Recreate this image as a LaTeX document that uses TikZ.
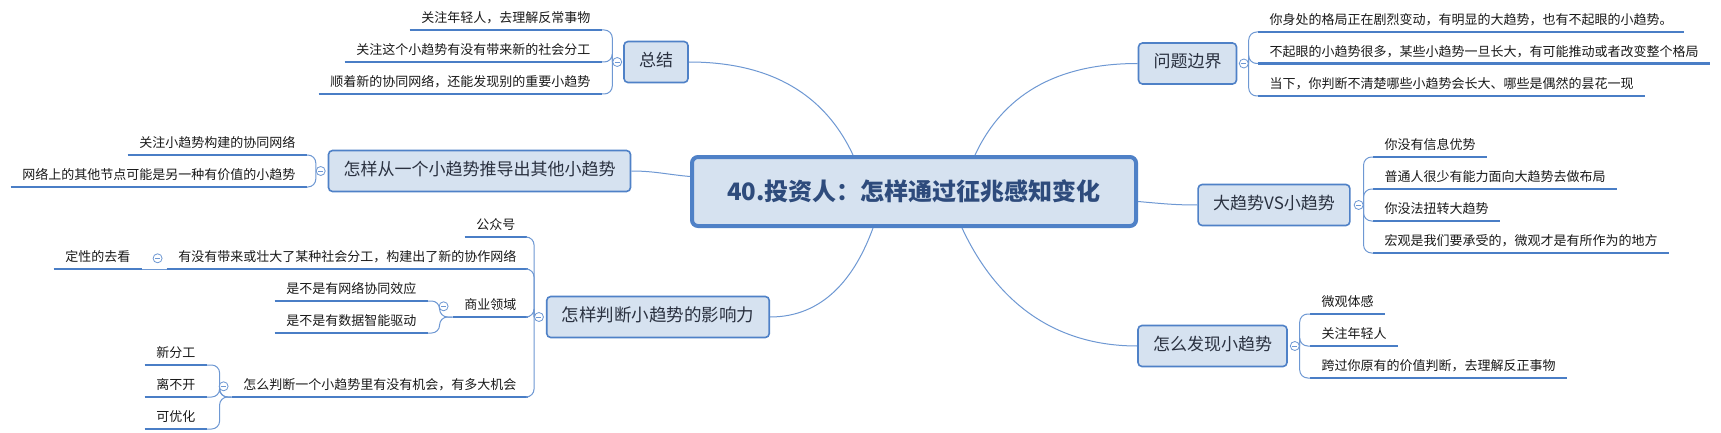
\documentclass[tikz,border=0pt]{standalone}
\usepackage{fontspec}
\setmainfont{Noto Sans CJK SC}
\definecolor{ulc}{HTML}{4A7EC6}
\definecolor{tpb}{HTML}{4F81C7}
\definecolor{tpf}{HTML}{D6E2F0}
\definecolor{lnc}{HTML}{6E98D3}
\definecolor{tpt}{HTML}{2A3140}
\definecolor{rtt}{HTML}{2E4B7C}
\tikzset{
  root/.style={draw=tpb, fill=tpf, line width=4pt, rounded corners=6pt, text=rtt,
    font=\bfseries\fontsize{24}{28}\selectfont, minimum width=444pt, minimum height=69pt},
  topic/.style={draw=tpb, fill=tpf, line width=1.6pt, rounded corners=4pt, text=tpt,
    font=\fontsize{17}{20}\selectfont, inner xsep=15pt, inner ysep=12pt,
    text height=13pt, text depth=4pt},
  leaf/.style={font=\fontsize{13}{15}\selectfont, text=black!90, inner xsep=11.5pt,
    inner ysep=4pt, text height=10pt, text depth=3pt},
  leafl/.style={leaf, anchor=south east},
  leafr/.style={leaf, anchor=south west},
  uline/.style={ulc, line width=2.5pt},
  conn/.style={lnc, line width=1pt},
  brk/.style={lnc, line width=1pt, rounded corners=8pt},
  hub/.style={circle, draw=lnc, fill=white, line width=0.8pt, minimum size=9pt, inner sep=0pt,
    path picture={\draw[lnc, line width=0.8pt] ([xshift=-2.5pt]path picture bounding box.center)
      -- ([xshift=2.5pt]path picture bounding box.center);}}
}
\begin{document}
\begin{tikzpicture}[x=1pt,y=1pt]
\path[use as bounding box, fill=white] (0,0) rectangle (1721,-433);
%%% central topic and the six main topics
\node[root] (root) at (914,-191.5) {40.投资人：怎样通过征兆感知变化};
\node[topic] (zj) at (656,-62) {总结};
\node[topic] (wt) at (1187.5,-63.5) {问题边界};
\node[topic] (cs) at (479.5,-171) {怎样从一个小趋势推导出其他小趋势};
\node[topic] (dq) at (1274,-205) {大趋势VS小趋势};
\node[topic, font=\fontsize{17.5}{21}\selectfont, minimum width=216pt] (pd) at (658,-317) {怎样判断小趋势的影响力};
\node[topic] (fx) at (1212.5,-346) {怎么发现小趋势};
\draw[conn] ([xshift=-61pt]root.north) to[out=115,in=0] (zj.east);
\draw[conn] ([xshift=61pt]root.north) to[out=65,in=180] (wt.west);
\draw[conn] ([yshift=15pt]root.west) to[out=175,in=0] (cs.east);
\draw[conn] ([yshift=-10pt]root.east) to[out=-5,in=180] (dq.west);
\draw[conn] ([xshift=-41pt]root.south) to[out=-110,in=0] (pd.east);
\draw[conn] ([xshift=48pt]root.south) to[out=-65,in=180] (fx.west);
%%% left side leaves
\node[leafl] (z1) at (602,-30) {关注年轻人，去理解反常事物};
\node[leafl] (z2) at (602,-62) {关注这个小趋势有没有带来新的社会分工};
\node[leafl] (z3) at (602,-94) {顺着新的协同网络，还能发现别的重要小趋势};
\node[leafl] (t1) at (307,-155) {关注小趋势构建的协同网络};
\node[leafl] (t2) at (307,-187) {网络上的其他节点可能是另一种有价值的小趋势};
\node[leafl] (p1) at (527,-237) {公众号};
\node[leafl] (p2) at (528,-269) {有没有带来或壮大了某种社会分工，构建出了新的协作网络};
\node[leafl] (p3) at (528,-317) {商业领域};
\node[leafl] (p4) at (528,-397) {怎么判断一个小趋势里有没有机会，有多大机会};
\node[leafl] (q1) at (142,-269) {定性的去看};
\node[leafl] (b1) at (428,-301) {是不是有网络协同效应};
\node[leafl] (b2) at (428,-333) {是不是有数据智能驱动};
\node[leafl] (n1) at (207,-365) {新分工};
\node[leafl] (n2) at (207,-397) {离不开};
\node[leafl] (n3) at (207,-429) {可优化};
%%% right side leaves
\node[leafr] (w1) at (1258,-32) {你身处的格局正在剧烈变动，有明显的大趋势，也有不起眼的小趋势。};
\node[leafr] (w2) at (1258,-63.5) {不起眼的小趋势很多，某些小趋势一旦长大，有可能推动或者改变整个格局};
\node[leafr] (w3) at (1258,-96) {当下，你判断不清楚哪些小趋势会长大、哪些是偶然的昙花一现};
\node[leafr] (d1) at (1373,-157) {你没有信息优势};
\node[leafr] (d2) at (1373,-189) {普通人很少有能力面向大趋势去做布局};
\node[leafr] (d3) at (1373,-221) {你没法扭转大趋势};
\node[leafr] (d4) at (1373,-253) {宏观是我们要承受的，微观才是有所作为的地方};
\node[leafr] (f1) at (1310,-314) {微观体感};
\node[leafr] (f2) at (1310,-346) {关注年轻人};
\node[leafr] (f3) at (1310,-378) {跨过你原有的价值判断，去理解反正事物};
\foreach \n in {z1,z2,z3,t1,t2,p1,p2,p3,p4,q1,b1,b2,n1,n2,n3,w1,w2,w3,d1,d2,d3,d4,f1,f2,f3}
  \draw[uline] (\n.south west) -- (\n.south east);
%%% brackets
\node[hub] (zc) at ([xshift=-6pt]zj.west) {};
\node[hub] (wc) at ([xshift=6.5pt]wt.east) {};
\node[hub] (cc) at ([xshift=-7pt]cs.west) {};
\node[hub] (dc) at ([xshift=8pt]dq.east) {};
\node[hub] (pc) at ([xshift=-7pt]pd.west) {};
\node[hub] (fc) at ([xshift=7pt]fx.east) {};
\node[hub] (p2c) at ([xshift=-9pt]p2.west) {};
\node[hub] (p3c) at ([xshift=-9pt]p3.west) {};
\node[hub] (p4c) at ([xshift=-8pt]p4.west) {};
\coordinate (p3h) at ([xshift=-13pt]p3.south west);
\coordinate (p4h) at ([xshift=-12pt]p4.south west);
\foreach \n in {z1,z2,z3} \draw[brk] (zc.west) |- (\n.south east);
\foreach \n in {t1,t2} \draw[brk] (cc.west) |- (\n.south east);
\foreach \n in {p1,p2,p3,p4} \draw[brk] (pc.west) |- (\n.south east);
\foreach \n in {w1,w2,w3} \draw[brk] (wc.east) |- (\n.south west);
\foreach \n in {d1,d2,d3,d4} \draw[brk] (dc.east) |- (\n.south west);
\foreach \n in {f1,f2,f3} \draw[brk] (fc.east) |- (\n.south west);
\draw[brk] (p2.south west) -- (q1.south east);
\foreach \n in {b1,b2} \draw[brk] (p3.south west) -- (p3h) |- (\n.south east);
\foreach \n in {n1,n2,n3} \draw[brk] (p4.south west) -- (p4h) |- (\n.south east);
\end{tikzpicture}
\end{document}
